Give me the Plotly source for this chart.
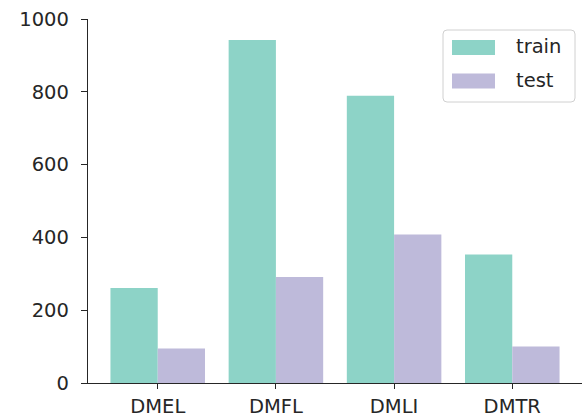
import plotly.graph_objects as go

# Sample counts per dataset split
categories = ["DMEL", "DMFL", "DMLI", "DMTR"]
train = [261, 942, 789, 353]
test = [95, 291, 408, 100]
series_names = ["train", "test"]
y_ticks = [0, 200, 400, 600, 800, 1000]

TRAIN_COLOR = "#8dd3c7"
TEST_COLOR = "#bebada"
INK = "#262626"
FONT = "DejaVu Sans"
FS = 19.5

W, H = 587, 418
ML, MR, MT, MB = 88, 5, 19, 35
PW, PH = W - ML - MR, H - MT - MB


def px_to_paper(x, y):
    return (x - ML) / PW, (H - MB - y) / PH


fig = go.Figure()
fig.add_bar(x=categories, y=train, name=series_names[0], marker_color=TRAIN_COLOR,
            marker_line_width=0)
fig.add_bar(x=categories, y=test, name=series_names[1], marker_color=TEST_COLOR,
            marker_line_width=0)

# Hand-drawn legend box in the upper right corner
x0, y0, x1, y1 = 443, 30, 575, 102
r = 4
px0, py0 = px_to_paper(x0, y0)
px1, py1 = px_to_paper(x1, y1)
rx = r / PW
ry = r / PH
path = (
    f"M {px0 + rx},{py0} L {px1 - rx},{py0} Q {px1},{py0} {px1},{py0 - ry} "
    f"L {px1},{py1 + ry} Q {px1},{py1} {px1 - rx},{py1} "
    f"L {px0 + rx},{py1} Q {px0},{py1} {px0},{py1 + ry} "
    f"L {px0},{py0 - ry} Q {px0},{py0} {px0 + rx},{py0} Z"
)
shapes = [dict(type="path", path=path, xref="paper", yref="paper",
               line=dict(color="#d0d0d0", width=1), fillcolor="rgba(255,255,255,0.8)",
               layer="above")]
annotations = []
for i, (name, color) in enumerate(zip(series_names, [TRAIN_COLOR, TEST_COLOR])):
    top = 40 + i * 33.5
    sx0, sy0 = px_to_paper(452, top)
    sx1, sy1 = px_to_paper(495, top + 15)
    shapes.append(dict(type="rect", xref="paper", yref="paper", x0=sx0, x1=sx1,
                       y0=sy1, y1=sy0, fillcolor=color, line=dict(width=0),
                       layer="above"))
    tx, ty = px_to_paper(514, top + 7)
    annotations.append(dict(text=name, x=tx, y=ty, xref="paper", yref="paper",
                            xanchor="left", yanchor="middle", showarrow=False,
                            font=dict(family=FONT, size=FS, color=INK)))

fig.update_layout(
    width=W, height=H,
    margin=dict(l=ML, r=MR, t=MT, b=MB, pad=0),
    paper_bgcolor="white", plot_bgcolor="white",
    barmode="group", bargap=0.2, bargroupgap=0,
    showlegend=False,
    font=dict(family=FONT, size=FS, color=INK),
    shapes=shapes, annotations=annotations,
    xaxis=dict(range=[-0.59, 3.59], showgrid=False, zeroline=False,
               showline=True, linecolor=INK, linewidth=1.3,
               ticks="outside", ticklen=5, tickwidth=1.3, tickcolor=INK,
               ticklabelstandoff=0, automargin=False),
    yaxis=dict(range=[0, 1000], tickvals=y_ticks, showgrid=False, zeroline=False,
               showline=True, linecolor=INK, linewidth=1.3,
               ticks="outside", ticklen=6, tickwidth=1.3, tickcolor=INK,
               ticklabelstandoff=8, automargin=False),
)

fig.write_html("out.html")
